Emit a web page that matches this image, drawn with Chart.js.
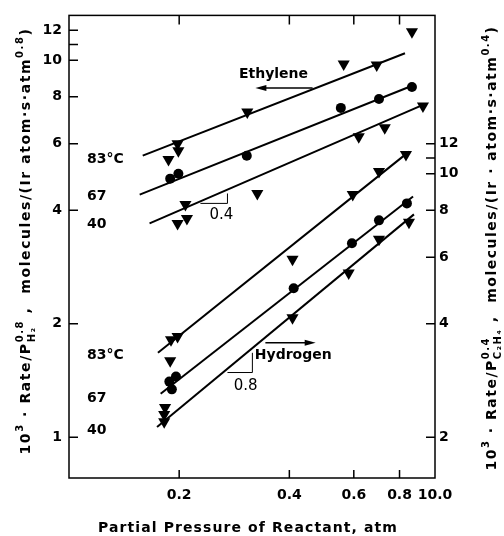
<!DOCTYPE html>
<html>
<head>
<meta charset="utf-8">
<script src="https://cdn.jsdelivr.net/npm/chart.js@4.4.0/dist/chart.umd.min.js"></script>
<style>
  html, body { margin: 0; padding: 0; background: #fff; }
  canvas { display: block; }
</style>
</head>
<body>
<canvas id="rateChart" width="504" height="536"></canvas>
<script>
// x axis: partial pressure of reactant (atm), log scale
const xTicks = [0.2, 0.4, 0.6, 0.8, 1.0];
const xTickLabels = ["0.2", "0.4", "0.6", "0.8", "10.0"];
// left axis: 10^3 rate / P_H2^0.8 (ethylene runs)
const leftTicks = [1, 2, 4, 6, 8, 10, 11, 12];
const leftTickLabels = ["1", "2", "4", "6", "8", "10", "", "12"];
// right axis: 10^3 rate / P_C2H4^0.4 (hydrogen runs)
const rightTicks = [2, 4, 6, 8, 10, 11, 12];
const rightTickLabels = ["2", "4", "6", "8", "10", "", "12"];

// ethylene pressure varied (left axis)
const ethX83 = [0.187, 0.198, 0.199, 0.307, 0.563, 0.693, 0.865];
const ethY83 = [5.45, 6.0, 5.75, 7.29, 9.76, 9.7, 11.9];
const ethX67 = [0.189, 0.199, 0.306, 0.553, 0.703, 0.865];
const ethY67 = [4.85, 5.0, 5.58, 7.47, 7.89, 8.49];
const ethX40 = [0.198, 0.208, 0.210, 0.327, 0.619, 0.729, 0.927];
const ethY40 = [3.69, 4.14, 3.80, 4.43, 6.26, 6.62, 7.56];
const ethFitX83 = [0.159, 0.828], ethFitY83 = [5.58, 10.43];
const ethFitX67 = [0.156, 0.876], ethFitY67 = [4.40, 8.59];
const ethFitX40 = [0.166, 0.927], ethFitY40 = [3.69, 7.61];

// hydrogen pressure varied (right axis)
const hydX83 = [0.189, 0.190, 0.198, 0.408, 0.596, 0.703, 0.833];
const hydY83 = [3.19, 3.63, 3.70, 5.93, 8.80, 10.13, 11.24];
const hydX67 = [0.188, 0.191, 0.196, 0.411, 0.593, 0.703, 0.838];
const hydY67 = [2.81, 2.68, 2.90, 4.97, 6.54, 7.52, 8.34];
const hydX40 = [0.182, 0.183, 0.182, 0.408, 0.581, 0.703, 0.849];
const hydY40 = [2.20, 2.40, 2.30, 4.15, 5.45, 6.70, 7.43];
const hydFitX83 = [0.175, 0.849], hydFitY83 = [3.35, 11.44];
const hydFitX67 = [0.178, 0.871], hydFitY67 = [2.61, 8.70];
const hydFitX40 = [0.174, 0.876], hydFitY40 = [2.13, 7.80];

const tempLabels = ["83°C", "67", "40"];

const FONT = "DejaVu Sans";
const toPts = (xs, ys) => xs.map((x, i) => ({ x: x, y: ys[i] }));

const marks = (xs, ys, axis, style) => ({
  data: toPts(xs, ys),
  yAxisID: axis,
  showLine: false,
  pointStyle: style,
  rotation: style === "triangle" ? 180 : 0,
  pointRadius: style === "triangle" ? 7 : 5,
  backgroundColor: "#000",
  borderColor: "#000",
  borderWidth: 0,
});
const fit = (xs, ys, axis) => ({
  data: toPts(xs, ys),
  yAxisID: axis,
  showLine: true,
  pointRadius: 0,
  borderColor: "#000",
  borderWidth: 2,
  fill: false,
});

const fixedTicks = (vals) => (scale) => { scale.ticks = vals.map((v) => ({ value: v })); };
const tickFont = { family: FONT, weight: "bold", size: 14 };

// rich text: strings are normal runs, objects give stacked sup/sub
function layoutRich(ctx, parts, size, spacing) {
  const big = `bold ${size}px "${FONT}"`;
  const small = `bold ${Math.round(size * 0.72)}px "${FONT}"`;
  ctx.letterSpacing = spacing + "px";
  let x = 0, chars = 0;
  const runs = [];
  parts.forEach((p) => {
    if (typeof p === "string") {
      ctx.font = big;
      runs.push({ t: p, f: big, x: x, y: 0 });
      x += ctx.measureText(p).width;
      chars += p.length;
    } else {
      ctx.font = small;
      let w = 0;
      if (p.sup) { runs.push({ t: p.sup, f: small, x: x, y: -size * 0.5 }); w = Math.max(w, ctx.measureText(p.sup).width); }
      if (p.sub) { runs.push({ t: p.sub, f: small, x: x, y: size * 0.38 }); w = Math.max(w, ctx.measureText(p.sub).width); }
      x += w;
      chars += Math.max((p.sup || "").length, (p.sub || "").length);
    }
  });
  return { runs: runs, width: x, chars: chars };
}

function drawRich(ctx, parts, size, cx, baseY, rotate, targetLen) {
  ctx.save();
  const plain = layoutRich(ctx, parts, size, 0);
  let sp = (targetLen - plain.width) / plain.chars;
  sp = Math.max(0, Math.min(4, sp));
  const lay = layoutRich(ctx, parts, size, sp);
  ctx.translate(cx, baseY);
  if (rotate) ctx.rotate(-Math.PI / 2);
  ctx.textBaseline = "alphabetic";
  ctx.textAlign = "left";
  ctx.fillStyle = "#000";
  lay.runs.forEach((r) => {
    ctx.font = r.f;
    ctx.fillText(r.t, r.x - lay.width / 2, r.y);
  });
  ctx.restore();
}

function arrow(ctx, x1, y, x2) {
  const dir = Math.sign(x2 - x1);
  ctx.beginPath();
  ctx.moveTo(x1, y);
  ctx.lineTo(x2 - dir * 8, y);
  ctx.lineWidth = 1.5;
  ctx.stroke();
  ctx.beginPath();
  ctx.moveTo(x2, y);
  ctx.lineTo(x2 - dir * 11, y - 3);
  ctx.lineTo(x2 - dir * 11, y + 3);
  ctx.closePath();
  ctx.fill();
}

const decor = {
  id: "decor",
  afterDraw(chart) {
    const { ctx, chartArea: a, scales } = chart;
    const X = (v) => scales.x.getPixelForValue(v);
    const YL = (v) => scales.y.getPixelForValue(v);
    const YR = (v) => scales.y2.getPixelForValue(v);
    ctx.save();
    ctx.strokeStyle = "#000";
    ctx.fillStyle = "#000";

    // frame and inward tick marks
    ctx.lineWidth = 1.5;
    ctx.strokeRect(a.left, a.top, a.right - a.left, a.bottom - a.top);
    ctx.beginPath();
    xTicks.forEach((v) => {
      const px = X(v);
      if (px >= a.right - 2) return;
      ctx.moveTo(px, a.bottom); ctx.lineTo(px, a.bottom - 8);
      ctx.moveTo(px, a.top); ctx.lineTo(px, a.top + 9);
    });
    leftTicks.forEach((v) => { const py = YL(v); ctx.moveTo(a.left, py); ctx.lineTo(a.left + 9, py); });
    rightTicks.forEach((v) => { const py = YR(v); ctx.moveTo(a.right, py); ctx.lineTo(a.right - 9, py); });
    ctx.stroke();

    // slope triangles
    ctx.lineWidth = 1;
    ctx.beginPath();
    ctx.moveTo(X(0.2286), YL(4.17)); ctx.lineTo(X(0.271), YL(4.17)); ctx.lineTo(X(0.271), YL(4.43));
    ctx.moveTo(X(0.271), YR(2.97)); ctx.lineTo(X(0.317), YR(2.97)); ctx.lineTo(X(0.317), YR(3.35));
    ctx.stroke();
    ctx.font = `15px "${FONT}"`;
    ctx.textAlign = "center";
    ctx.textBaseline = "middle";
    ctx.fillText("0.4", X(0.261), YL(3.88));
    ctx.fillText("0.8", X(0.304), YR(2.73));

    // arrows and reactant names
    arrow(ctx, X(0.463), YL(8.44), X(0.323));
    arrow(ctx, X(0.344), YR(3.56), X(0.472));
    ctx.font = `bold 14px "${FONT}"`;
    ctx.fillText("Ethylene", X(0.362), YL(9.19));
    ctx.fillText("Hydrogen", X(0.410), YR(3.29));

    // temperature labels
    ctx.textAlign = "left";
    const ethLabY = [5.47, 4.35, 3.67];
    const hydLabY = [3.29, 2.54, 2.09];
    tempLabels.forEach((t, i) => {
      ctx.fillText(t, X(0.112), YL(ethLabY[i]));
      ctx.fillText(t, X(0.112), YR(hydLabY[i]));
    });
    ctx.restore();

    // axis titles
    drawRich(ctx, ["Partial Pressure of Reactant, atm"], 14, 248, 532, false, 300);
    drawRich(ctx, ["10", { sup: "3" }, " · Rate/P", { sup: "0.8", sub: "H₂" }, " ,  molecules/(Ir atom·s·atm", { sup: "0.8" }, ")"],
      14, 30, 241, true, 427);
    drawRich(ctx, ["10", { sup: "3" }, " · Rate/P", { sup: "0.4", sub: "C₂H₄" }, " ,  molecules/(Ir · atom·s·atm", { sup: "0.4" }, ")"],
      14, 496, 248, true, 445);
  },
};

new Chart(document.getElementById("rateChart"), {
  type: "scatter",
  data: {
    datasets: [
      marks(ethX83, ethY83, "y", "triangle"),
      marks(ethX67, ethY67, "y", "circle"),
      marks(ethX40, ethY40, "y", "triangle"),
      fit(ethFitX83, ethFitY83, "y"),
      fit(ethFitX67, ethFitY67, "y"),
      fit(ethFitX40, ethFitY40, "y"),
      marks(hydX83, hydY83, "y2", "triangle"),
      marks(hydX67, hydY67, "y2", "circle"),
      marks(hydX40, hydY40, "y2", "triangle"),
      fit(hydFitX83, hydFitY83, "y2"),
      fit(hydFitX67, hydFitY67, "y2"),
      fit(hydFitX40, hydFitY40, "y2"),
    ],
  },
  options: {
    responsive: false,
    animation: false,
    layout: { padding: 0 },
    plugins: { legend: { display: false }, tooltip: { enabled: false } },
    scales: {
      x: {
        type: "logarithmic", position: "bottom", min: 0.1, max: 1.0,
        afterBuildTicks: fixedTicks(xTicks),
        afterFit: (s) => { s.height = 58; },
        grid: { display: true, drawOnChartArea: false, drawTicks: false },
        border: { display: false },
        ticks: { autoSkip: false, maxRotation: 0, padding: 9, color: "#000", font: tickFont,
          callback: (v, i) => xTickLabels[i] },
      },
      xTop: {
        type: "logarithmic", position: "top", min: 0.1, max: 1.0,
        afterBuildTicks: fixedTicks(xTicks),
        afterFit: (s) => { s.height = 13; },
        grid: { display: true, drawOnChartArea: false, drawTicks: false },
        border: { display: false },
        ticks: { display: false },
      },
      y: {
        type: "logarithmic", position: "left", min: 0.78, max: 13.14,
        afterBuildTicks: fixedTicks(leftTicks),
        afterFit: (s) => { s.width = 69; },
        grid: { display: true, drawOnChartArea: false, drawTicks: false },
        border: { display: false },
        ticks: { autoSkip: false, padding: 7, color: "#000", font: tickFont,
          callback: (v, i) => leftTickLabels[i] },
      },
      y2: {
        type: "logarithmic", position: "right", min: 1.56, max: 26.28,
        afterBuildTicks: fixedTicks(rightTicks),
        afterFit: (s) => { s.width = 69; },
        grid: { display: true, drawOnChartArea: false, drawTicks: false },
        border: { display: false },
        ticks: { autoSkip: false, padding: 4, color: "#000", font: tickFont,
          callback: (v, i) => rightTickLabels[i] },
      },
    },
  },
  plugins: [decor],
});
</script>
</body>
</html>
